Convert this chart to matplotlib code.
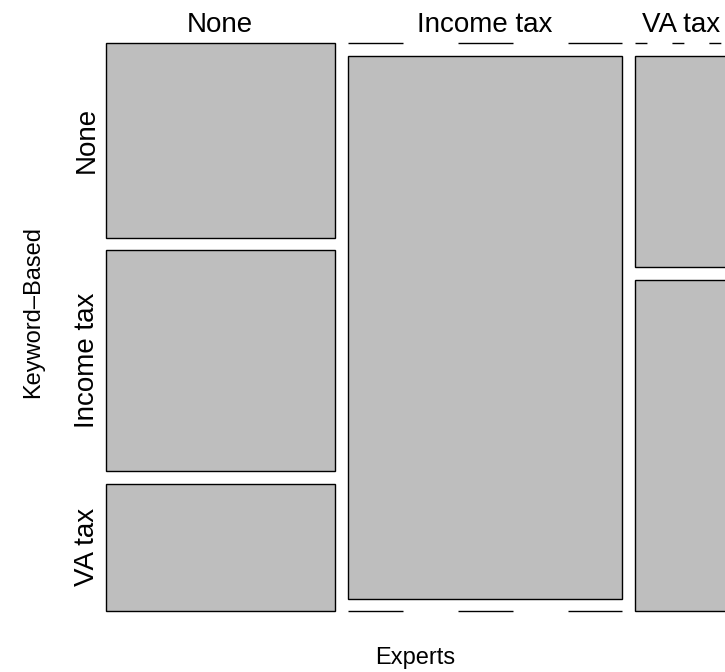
import matplotlib
matplotlib.use("Agg")
from matplotlib import pyplot as plt
from matplotlib.patches import Rectangle
from matplotlib.transforms import blended_transform_factory
import numpy as np

# Kreuztabelle: Spalten = Experts, Zeilen = Keyword-Based
experts = ["None", "Income tax", "VA tax"]
keyword = ["None", "Income tax", "VA tax"]
counts = np.array([
    [52, 0, 0],     # None
    [59, 174, 23],  # Income tax
    [34, 0, 36],    # VA tax
])

plt.rcParams['font.family'] = ['Liberation Sans', 'DejaVu Sans']

fig = plt.figure(figsize=(7.25, 6.72), dpi=100)
W, H = 725, 672
# Plotbereich (rechte Spalte läuft über den Rand hinaus, wie im Original)
left, top, right, bottom = 106, 43, 728, 611
ax = fig.add_axes([left / W, 1 - bottom / H, (right - left) / W, (bottom - top) / H])

gap_x = 13 / 596
gap_y = 12.5 / 543
ax.set_xlim(0, 1 + gap_x * (len(experts) - 1))
ax.set_ylim(1 + gap_y * (len(keyword) - 1), 0)
ax.axis('off')

col_tot = counts.sum(axis=0)
col_frac = col_tot / col_tot.sum()
# Strichmuster der Null-Zellen (in pt, bei lw=1)
dash_styles = [(0, (6, 6)), (0, (39.6, 39.6)), (0, (8.6, 18))]

x0 = 0
col_centers = []
for j in range(len(experts)):
    w = col_frac[j]
    col_centers.append(x0 + w / 2)
    y0 = 0
    for i in range(len(keyword)):
        h = counts[i, j] / col_tot[j]
        if counts[i, j] == 0:
            ax.plot([x0, x0 + w], [y0, y0], color='black', lw=1.0,
                    linestyle=dash_styles[j], clip_on=False)
        else:
            ax.add_patch(Rectangle((x0, y0), w, h, facecolor='#bebebe',
                                   edgecolor='black', lw=1.0, clip_on=False))
        y0 += h + gap_y
    x0 += w + gap_x

# Spaltenbeschriftungen oben
tr_top = blended_transform_factory(ax.transData, fig.transFigure)
for j, lab in enumerate(experts):
    ax.text(col_centers[j], 1 - 25 / H, lab, transform=tr_top,
            ha='center', va='center', fontsize=20)

# Zeilenbeschriftungen links (erste Spalte)
tr_left = blended_transform_factory(fig.transFigure, ax.transData)
y0 = 0
for i, lab in enumerate(keyword):
    h = counts[i, 0] / col_tot[0]
    ax.text(87 / W, y0 + h / 2, lab, transform=tr_left, rotation=90,
            ha='center', va='center', fontsize=20)
    y0 += h + gap_y

fig.text(33 / W, 1 - 312 / H, "Keyword\u2013Based", rotation=90,
         ha='center', va='center', fontsize=17)
fig.text(415 / W, 1 - 658 / H, "Experts", ha='center', va='center', fontsize=17)

fig.savefig("out.png", dpi=100)
